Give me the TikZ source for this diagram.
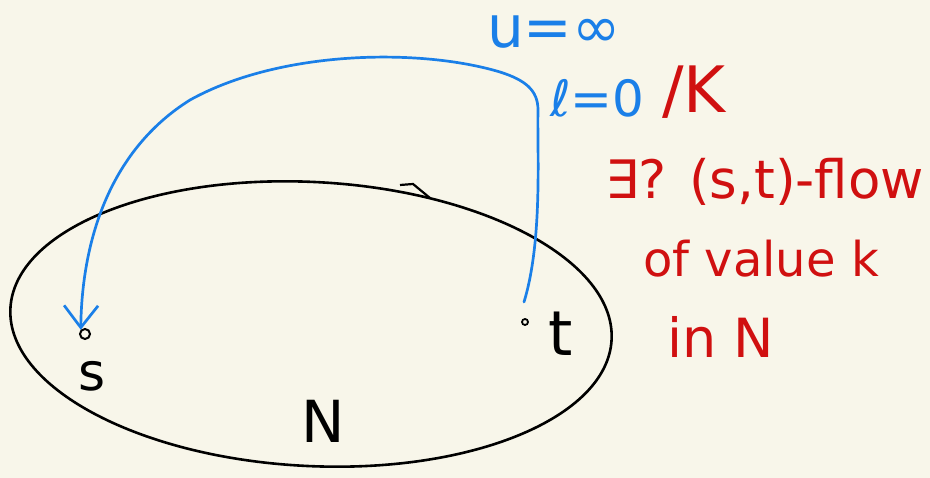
\documentclass[tikz,border=0pt]{standalone}
\usepackage{fontspec}
\setmainfont{DejaVu Sans}
\usetikzlibrary{arrows.meta}
\definecolor{bg}{HTML}{F8F6EA}
\definecolor{penblue}{HTML}{1A7FE8}
\definecolor{penred}{HTML}{D01010}
\begin{document}
\begin{tikzpicture}[x=1pt,y=1pt,
  blk/.style={line width=2.6pt,black},
  bluepen/.style={line width=2.7pt,penblue,line cap=round},
  hand/.style={inner sep=0pt,font=\fontsize{50}{54}\selectfont},
  redtxt/.style={hand,text=penred,anchor=west},
  bluetxt/.style={hand,text=penblue,anchor=west}]
\fill[bg] (0,0) rectangle (930,-478);
\useasboundingbox (0,0) rectangle (930,-478);
% network N
\draw[blk,rotate around={-3:(311,-324)}] (311,-324) ellipse [x radius=301, y radius=142];
\draw[blk,line width=2.2pt] (400,-185) -- (413,-184) -- (430,-198);
% vertices
\node[draw,circle,line width=2pt,minimum size=10pt,inner sep=0pt] (s) at (85,-334) {};
\node[draw,circle,line width=1.8pt,minimum size=6pt,inner sep=0pt] (t) at (525,-322) {};
\node[hand,font=\fontsize{52}{56}\selectfont] (sl) at (92,-376) {s};
\node[hand,font=\fontsize{62}{66}\selectfont] (tl) at (561,-334) {t};
\node[hand,font=\fontsize{58}{62}\selectfont] (Nl) at (323,-421) {N};
% blue arc t -> s
\coordinate (tstart) at (524,-302);
\draw[bluepen,-{Straight Barb[length=22pt,width=34pt,line width=2.7pt]}]
  (tstart) .. controls (543,-240) and (537,-150) .. (538,-110)
  .. controls (538,-90) and (525,-80) .. (500,-72)
  .. controls (420,-48) and (280,-50) .. (190,-100)
  .. controls (110,-150) and (82,-240) .. (s.north west);
% labels
\node[bluetxt,font=\fontsize{58}{62}\selectfont] (u) at (487,-32) {u=∞};
\node[bluetxt] (l) at (550,-98) {ℓ=0};
\node[redtxt,font=\fontsize{64}{68}\selectfont] (k) at (662,-92) {/K};
\node[redtxt,font=\fontsize{53}{57}\selectfont] (q1) at (605,-182) {∃? (s,t)-flow};
\node[redtxt,font=\fontsize{48}{52}\selectfont] (q2) at (643,-259) {of value k};
\node[redtxt,font=\fontsize{54}{58}\selectfont] (q3) at (667,-337) {in N};
\end{tikzpicture}
\end{document}
